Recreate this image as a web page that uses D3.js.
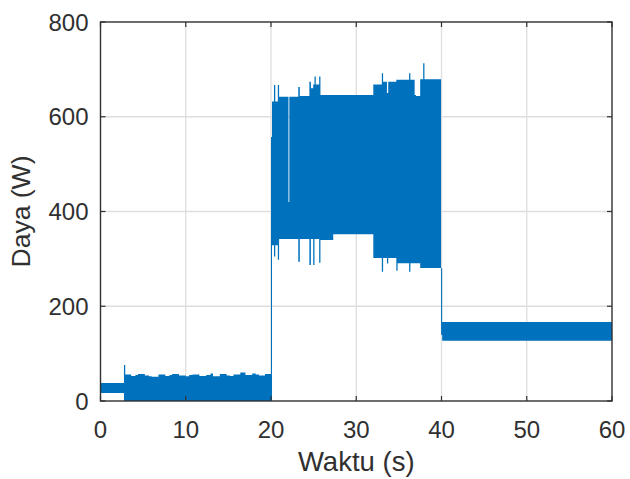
<!DOCTYPE html>
<html>
<head>
<meta charset="utf-8">
<script src="https://cdn.jsdelivr.net/npm/d3@7"></script>
<style>
  body { margin: 0; background: #fff; }
  svg text { font-family: "Liberation Sans", Arial, Helvetica, sans-serif; fill: #303030; }
</style>
</head>
<body>
<div id="chart"></div>
<script>

// envelope of the power signal (step after each time)
var times = [0, 2.75, 2.9, 3.6, 4.1, 4.4, 5.2, 5.7, 6.0, 6.8, 7.6, 8.1, 8.4, 9.2, 10.0, 10.4, 10.8, 11.6, 12.4, 12.9, 13.2, 14.0, 14.8, 15.2, 15.6, 16.4, 17.0, 17.8, 18.2, 18.6, 19.3,
             20.0, 20.12, 20.35, 20.5, 20.8, 20.95, 22.05, 22.15, 23.2, 23.38, 24.5, 24.68, 24.95, 25.1, 25.25, 25.65, 25.8, 26.8, 27.3,
             32.0, 33.0, 33.15, 33.6, 33.75, 34.7, 34.85, 36.2, 36.35, 36.85, 37.0, 37.5, 37.85, 38.0,
             39.95, 40.08, 60.0];
var upper = [38, 76, 56, 53, 55, 57, 54, 52, 51, 56, 53, 55, 57, 54, 52, 55, 56, 53, 55, 58, 52, 57, 54, 53, 56, 60, 55, 58, 56, 54, 57,
             557, 632, 667, 632, 667, 642, 420, 642, 663, 644, 674, 660, 668, 685, 668, 685, 646, 646, 646,
             668, 692, 674, 650, 674, 678, 678, 692, 678, 646, 644, 679, 713, 679,
             280, 167, 167];
var lower = [17, 0, 0, 0, 0, 0, 0, 0, 0, 0, 0, 0, 0, 0, 0, 0, 0, 0, 0, 0, 0, 0, 0, 0, 0, 0, 0, 0, 0, 0, 0,
             0, 329, 305, 329, 298, 342, 342, 342, 294, 342, 287, 342, 287, 342, 342, 292, 340, 340, 352,
             302, 273, 302, 290, 302, 275, 291, 273, 291, 291, 291, 281, 281, 281,
             140, 127, 127];

var xTicks = [0, 10, 20, 30, 40, 50, 60];
var yTicks = [0, 200, 400, 600, 800];

var width = 630, height = 479;
var margin = {top: 22, right: 18, bottom: 78, left: 100.5};

var svg = d3.select("#chart").append("svg")
    .attr("width", width)
    .attr("height", height);

var x = d3.scaleLinear().domain([0, 60]).range([margin.left, width - margin.right]);
var y = d3.scaleLinear().domain([0, 800]).range([height - margin.bottom, margin.top]);

// grid
svg.append("g").selectAll("line")
    .data(xTicks.slice(1, -1))
    .enter().append("line")
    .attr("x1", function(d){ return x(d); }).attr("x2", function(d){ return x(d); })
    .attr("y1", y(0)).attr("y2", y(800))
    .attr("stroke", "#dedede").attr("stroke-width", 1.3);

svg.append("g").selectAll("line")
    .data(yTicks.slice(1, -1))
    .enter().append("line")
    .attr("x1", x(0)).attr("x2", x(60))
    .attr("y1", function(d){ return y(d); }).attr("y2", function(d){ return y(d); })
    .attr("stroke", "#dedede").attr("stroke-width", 1.3);

// signal
var rows = times.map(function(t, i){ return {t: t, hi: upper[i], lo: lower[i]}; });

var area = d3.area()
    .curve(d3.curveStepAfter)
    .x(function(d){ return x(d.t); })
    .y0(function(d){ return y(d.lo); })
    .y1(function(d){ return y(d.hi); });

svg.append("path")
    .datum(rows)
    .attr("d", area)
    .attr("fill", "#0072BD");

// box + ticks
svg.append("rect")
    .attr("x", x(0)).attr("y", y(800))
    .attr("width", x(60) - x(0)).attr("height", y(0) - y(800))
    .attr("fill", "none").attr("stroke", "#303030").attr("stroke-width", 1.4);

var tl = 5;
var ticks = svg.append("g").attr("stroke", "#303030").attr("stroke-width", 1.2);
xTicks.forEach(function(d){
    ticks.append("line").attr("x1", x(d)).attr("x2", x(d)).attr("y1", y(0)).attr("y2", y(0) - tl);
    ticks.append("line").attr("x1", x(d)).attr("x2", x(d)).attr("y1", y(800)).attr("y2", y(800) + tl);
});
yTicks.forEach(function(d){
    ticks.append("line").attr("x1", x(0)).attr("x2", x(0) + tl).attr("y1", y(d)).attr("y2", y(d));
    ticks.append("line").attr("x1", x(60)).attr("x2", x(60) - tl).attr("y1", y(d)).attr("y2", y(d));
});

// tick labels
svg.append("g").selectAll("text")
    .data(xTicks)
    .enter().append("text")
    .attr("x", function(d){ return x(d); })
    .attr("y", y(0) + 37)
    .attr("text-anchor", "middle")
    .attr("font-size", "24px")
    .text(function(d){ return d; });

svg.append("g").selectAll("text")
    .data(yTicks)
    .enter().append("text")
    .attr("x", x(0) - 12)
    .attr("y", function(d){ return y(d) + 8.5; })
    .attr("text-anchor", "end")
    .attr("font-size", "24px")
    .text(function(d){ return d; });

// axis labels
svg.append("text")
    .attr("x", (x(0) + x(60)) / 2)
    .attr("y", 471)
    .attr("text-anchor", "middle")
    .attr("font-size", "27.5px")
    .text("Waktu (s)");

svg.append("text")
    .attr("transform", "translate(30," + ((y(0) + y(800)) / 2) + ") rotate(-90)")
    .attr("text-anchor", "middle")
    .attr("font-size", "26.5px")
    .text("Daya (W)");

</script>
</body>
</html>
